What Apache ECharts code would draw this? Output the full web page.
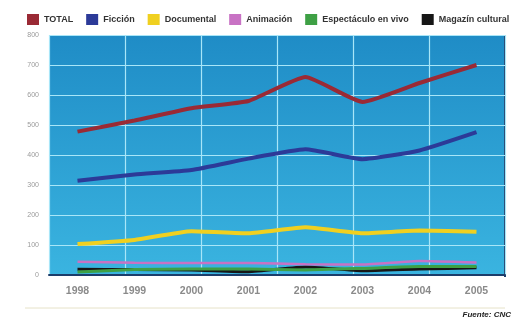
<!DOCTYPE html>
<html><head><meta charset="utf-8">
<script src="https://cdn.jsdelivr.net/npm/echarts@6/dist/echarts.min.js"></script>
<style>html,body{margin:0;padding:0;background:#fff;}#c{width:521px;height:321px;}</style>
</head><body><div id="c"></div>
<script>
var years = ['1998','1999','2000','2001','2002','2003','2004','2005'];
var seriesNames = ['TOTAL','Ficción','Documental','Animación','Espectáculo en vivo','Magazín cultural'];
var total = [478, 515, 556, 580, 660, 577, 640, 700];
var ficcion = [314, 335, 350, 388, 419, 386, 415, 476];
var documental = [103, 117, 146, 139, 159, 139, 148, 144];
var animacion = [44, 41, 40, 40, 36, 35, 47, 42];
var espectaculo = [10, 18, 20, 20, 17, 22, 28, 28];
var magazin = [19, 18, 17, 11, 27, 14, 20, 24];
var yTicks = [0, 100, 200, 300, 400, 500, 600, 700, 800];
var colors = ['#9a2a35','#2c3a98','#f0d020','#c872c4','#3ea045','#161616'];
var widths = [4, 4, 4, 2.5, 3, 3];
var values = [total, ficcion, documental, animacion, espectaculo, magazin];

var chart = echarts.init(document.getElementById('c'));
chart.setOption({
  animation: false,
  legend: {
    top: 9, left: 22, icon: 'rect', itemWidth: 12, itemHeight: 11, itemGap: 13,
    textStyle: {color: '#333', fontSize: 9, fontWeight: 'bold', fontFamily: 'Liberation Sans Narrow, Liberation Sans, sans-serif'},
    data: seriesNames
  },
  grid: {left: 49, right: 16, top: 35, bottom: 46, show: true, borderWidth: 0,
    backgroundColor: {type: 'linear', x: 0, y: 0, x2: 0, y2: 1, colorStops: [{offset: 0, color: '#1f8cc6'}, {offset: 1, color: '#3ab4e0'}]}},
  xAxis: [{
    type: 'category', data: years, boundaryGap: true,
    axisLine: {show: true, lineStyle: {color: '#1c3d6a', width: 2}},
    axisTick: {show: false},
    splitLine: {show: false},
    axisLabel: {color: '#8a8a8a', fontSize: 10.5, fontWeight: 'bold', margin: 11}
  }, {
    type: 'value', min: 0, max: 6, interval: 1, position: 'top',
    axisLine: {show: false}, axisTick: {show: false}, axisLabel: {show: false},
    splitLine: {show: true, lineStyle: {color: '#a8e6f8', width: 1.2}}
  }],
  yAxis: {
    type: 'value', min: yTicks[0], max: yTicks[yTicks.length - 1], interval: 100,
    axisLine: {show: false}, axisTick: {show: false},
    axisLabel: {color: '#9a9a9a', fontSize: 7, margin: 10},
    splitLine: {lineStyle: {color: '#a8e6f8', width: 1.2}}
  },
  graphic: [
    {type: 'rect', shape: {x: 504, y: 35, width: 2, height: 242}, style: {fill: '#1c3d6a'}},
    {type: 'line', shape: {x1: 25, y1: 308, x2: 505, y2: 308}, style: {stroke: '#e6e2c8', lineWidth: 1}},
    {type: 'text', right: 10, top: 311, style: {text: 'Fuente: CNC', fill: '#222', font: 'italic bold 8px Liberation Sans'}}
  ],
  series: seriesNames.map(function (n, i) {
    return {
      name: n, type: 'line', data: values[i], xAxisIndex: 0, smooth: 0.15,
      symbol: 'none', z: 10 - i,
      itemStyle: {color: colors[i]},
      lineStyle: {color: colors[i], width: widths[i]}
    };
  })
});
</script></body></html>
